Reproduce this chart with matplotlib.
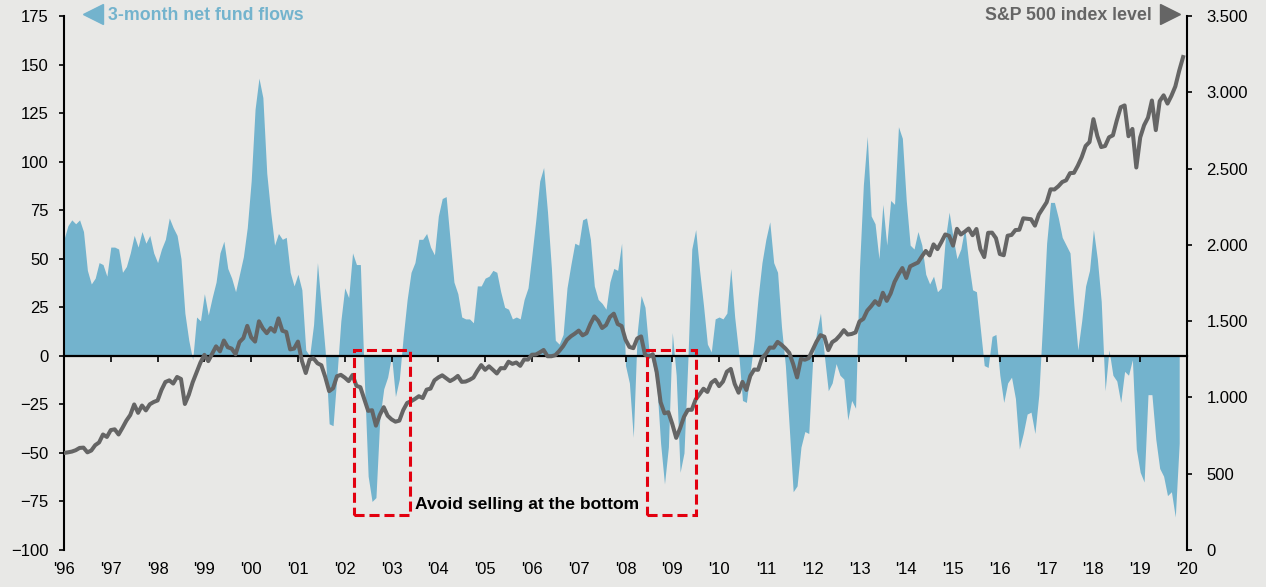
###############################################################################
### Fund flows vs S&P 500 index level
###############################################################################

#------------------------------------------------------------------------------
### Import packages
import matplotlib
matplotlib.use('Agg')
import matplotlib.pyplot as plt
from matplotlib.lines import Line2D
from matplotlib.patches import Rectangle
from matplotlib.ticker import FuncFormatter
import numpy as np


#------------------------------------------------------------------------------
### Data (monthly, starting Jan 1996)

# 3-month net fund flows (left axis), Jan 1996 - Nov 2019
flows_1996 = [60, 67, 70, 68, 70, 64, 44, 37, 40, 48, 47, 41]
flows_1997 = [56, 56, 55, 43, 46, 53, 62, 56, 64, 58, 62, 53]
flows_1998 = [48, 55, 60, 71, 66, 62, 50, 22, 8, -2, 20, 18]
flows_1999 = [32, 21, 30, 38, 53, 59, 45, 40, 33, 42, 51, 66]
flows_2000 = [90, 127, 143, 133, 94, 74, 57, 63, 60, 61, 43, 36]
flows_2001 = [42, 34, 3, 0, 16, 48, 25, 2, -35, -36, -10, 18]
flows_2002 = [35, 30, 53, 47, 47, -11, -62, -75, -73, -32, -17, -11]
flows_2003 = [0, -21, -12, 10, 29, 43, 48, 60, 60, 63, 56, 52]
flows_2004 = [72, 81, 82, 60, 38, 32, 20, 19, 19, 17, 36, 36]
flows_2005 = [40, 41, 44, 43, 33, 25, 24, 19, 20, 19, 29, 35]
flows_2006 = [52, 70, 90, 97, 74, 45, 8, 6, 11, 35, 47, 58]
flows_2007 = [57, 70, 71, 60, 36, 29, 27, 24, 38, 45, 44, 58]
flows_2008 = [-5, -14, -42, 12, 31, 25, 3, -4, -14, -45, -66, -47]
flows_2009 = [12, -10, -60, -50, -2, 55, 65, 44, 26, 6, 2, 19]
flows_2010 = [20, 19, 22, 45, 20, 2, -23, -24, -8, 8, 30, 48]
flows_2011 = [60, 69, 48, 43, 15, -5, -37, -70, -67, -47, -39, -40]
flows_2012 = [-2, 12, 22, 0, -18, -14, -4, -10, -12, -33, -23, -27]
flows_2013 = [45, 88, 113, 72, 68, 50, 78, 57, 80, 78, 118, 112]
flows_2014 = [80, 57, 55, 64, 57, 42, 37, 41, 33, 35, 60, 74]
flows_2015 = [61, 50, 55, 66, 48, 34, 33, 14, -5, -6, 10, 11]
flows_2016 = [-10, -24, -14, -11, -22, -48, -40, -30, -29, -40, -20, 18]
flows_2017 = [58, 79, 79, 71, 61, 57, 53, 26, 3, 18, 36, 44]
flows_2018 = [65, 50, 28, -18, 3, -10, -13, -24, -8, -10, -2, -48]
flows_2019 = [-60, -65, -20, -20, -43, -58, -62, -72, -70, -83, -45]

# S&P 500 index level (right axis), Jan 1996 - Dec 2019
spx_1996 = [636, 640, 645, 654, 669, 671, 640, 652, 687, 705, 757, 741]
spx_1997 = [786, 791, 757, 801, 848, 885, 954, 899, 947, 915, 955, 970]
spx_1998 = [980, 1049, 1101, 1112, 1091, 1134, 1121, 957, 1017, 1099, 1164, 1229]
spx_1999 = [1279, 1238, 1286, 1335, 1302, 1373, 1329, 1320, 1283, 1363, 1389, 1469]
spx_2000 = [1394, 1366, 1499, 1452, 1421, 1455, 1431, 1518, 1437, 1429, 1315, 1320]
spx_2001 = [1366, 1240, 1160, 1249, 1256, 1224, 1211, 1134, 1041, 1060, 1139, 1148]
spx_2002 = [1130, 1107, 1147, 1076, 1067, 990, 912, 916, 815, 886, 936, 880]
spx_2003 = [856, 841, 848, 917, 964, 975, 990, 1008, 996, 1051, 1058, 1112]
spx_2004 = [1131, 1145, 1126, 1107, 1121, 1141, 1102, 1104, 1115, 1130, 1174, 1212]
spx_2005 = [1181, 1204, 1181, 1157, 1192, 1191, 1234, 1220, 1229, 1207, 1249, 1248]
spx_2006 = [1280, 1281, 1295, 1311, 1270, 1270, 1277, 1304, 1336, 1378, 1401, 1418]
spx_2007 = [1438, 1407, 1421, 1482, 1531, 1503, 1455, 1474, 1527, 1549, 1481, 1468]
spx_2008 = [1379, 1331, 1323, 1386, 1400, 1280, 1267, 1283, 1166, 969, 896, 903]
spx_2009 = [826, 735, 798, 873, 919, 919, 987, 1021, 1057, 1036, 1096, 1115]
spx_2010 = [1074, 1104, 1169, 1187, 1089, 1031, 1102, 1049, 1141, 1183, 1181, 1258]
spx_2011 = [1286, 1327, 1326, 1364, 1345, 1321, 1292, 1219, 1131, 1253, 1247, 1258]
spx_2012 = [1312, 1366, 1408, 1398, 1310, 1362, 1379, 1407, 1441, 1412, 1416, 1426]
spx_2013 = [1498, 1515, 1569, 1598, 1631, 1606, 1686, 1633, 1682, 1757, 1806, 1848]
spx_2014 = [1783, 1859, 1872, 1884, 1924, 1960, 1931, 2003, 1972, 2018, 2068, 2059]
spx_2015 = [1995, 2105, 2068, 2086, 2107, 2063, 2104, 1972, 1920, 2079, 2080, 2044]
spx_2016 = [1940, 1932, 2060, 2065, 2097, 2099, 2174, 2171, 2168, 2126, 2199, 2239]
spx_2017 = [2279, 2364, 2363, 2384, 2412, 2423, 2470, 2472, 2519, 2575, 2648, 2674]
spx_2018 = [2824, 2714, 2641, 2648, 2705, 2718, 2816, 2902, 2914, 2712, 2760, 2507]
spx_2019 = [2704, 2784, 2834, 2946, 2752, 2942, 2980, 2926, 2977, 3038, 3141, 3231]

# Axis ticks
year_ticks = list(range(1996, 2021))
flow_ticks = list(range(-100, 176, 25))
spx_ticks = list(range(0, 3501, 500))

# Highlighted periods (start year, end year)
highlight_periods = [(2002.2, 2003.39), (2008.46, 2009.5)]


#------------------------------------------------------------------------------
### Constants

FIG_W, FIG_H, DPI = 12.66, 5.87, 100
BG_COLOR = '#e8e8e6'
FLOW_COLOR = '#73b3cd'
SPX_COLOR = '#656565'
BOX_COLOR = '#e3000f'
FONT_SIZE = 12
HEADER_SIZE = 12.8

plt.rcParams['font.family'] = ['Liberation Sans', 'DejaVu Sans']


#------------------------------------------------------------------------------
### Assemble series

flows = np.array(flows_1996 + flows_1997 + flows_1998 + flows_1999 + flows_2000
	+ flows_2001 + flows_2002 + flows_2003 + flows_2004 + flows_2005 + flows_2006
	+ flows_2007 + flows_2008 + flows_2009 + flows_2010 + flows_2011 + flows_2012
	+ flows_2013 + flows_2014 + flows_2015 + flows_2016 + flows_2017 + flows_2018
	+ flows_2019, dtype=float)
spx = np.array(spx_1996 + spx_1997 + spx_1998 + spx_1999 + spx_2000 + spx_2001
	+ spx_2002 + spx_2003 + spx_2004 + spx_2005 + spx_2006 + spx_2007 + spx_2008
	+ spx_2009 + spx_2010 + spx_2011 + spx_2012 + spx_2013 + spx_2014 + spx_2015
	+ spx_2016 + spx_2017 + spx_2018 + spx_2019, dtype=float)

t_flows = 1996 + np.arange(len(flows)) / 12.0
t_spx = 1996 + np.arange(len(spx)) / 12.0


#------------------------------------------------------------------------------
### Plot

fig = plt.figure(figsize=(FIG_W, FIG_H), dpi=DPI, facecolor=BG_COLOR)
ax = fig.add_axes([64/1266, 37/587, 1123/1266, 534/587])
ax.set_facecolor(BG_COLOR)
ax2 = ax.twinx()

# Fund flows area
ax.fill_between(t_flows, flows, 0, color=FLOW_COLOR, linewidth=0, zorder=1)
ax.set_xlim(1996, 2020)
ax.set_ylim(-100, 175)

# S&P line
ax2.plot(t_spx, spx, color=SPX_COLOR, linewidth=2.9, solid_joinstyle='round',
	zorder=3)
ax2.set_ylim(0, 3500)

# Spines
for side in ['top', 'right']:
	ax.spines[side].set_visible(False)
for side in ['top', 'left', 'bottom']:
	ax2.spines[side].set_visible(False)
ax.spines['left'].set_linewidth(1.5)
ax2.spines['right'].set_linewidth(1.5)
ax.spines['bottom'].set_position(('data', 0))
ax.spines['bottom'].set_linewidth(1.6)
ax.spines['bottom'].set_zorder(2)

# Ticks
ax.set_xticks(year_ticks)
ax.tick_params(axis='x', direction='out', length=4, width=1.2,
	labelbottom=False)
ax.set_yticks(flow_ticks)
ax.tick_params(axis='y', direction='out', length=3.6, width=1.2, pad=7.5,
	labelsize=FONT_SIZE)
ax2.set_yticks(spx_ticks)
ax2.yaxis.set_major_formatter(FuncFormatter(
	lambda v, pos: '{:,}'.format(int(v)).replace(',', '.')))
ax2.tick_params(axis='y', direction='out', length=3.6, width=1.2, pad=10.5,
	labelsize=FONT_SIZE)

# Year labels below the plot area
for yr in year_ticks:
	ax.text(yr, -106.2, "'" + str(yr)[2:], ha='center', va='top',
		fontsize=FONT_SIZE)

# Highlight boxes
for start, end in highlight_periods:
	box = Rectangle((start, -82), end - start, 85, fill=False,
		edgecolor=BOX_COLOR, linewidth=2.2, linestyle=(0, (3.3, 1.6)),
		transform=ax.transData, zorder=4)
	ax2.add_patch(box)
ax2.text(2003.5, -76.7, 'Avoid selling at the bottom', transform=ax.transData,
	ha='left', va='center', fontsize=12.6, fontweight='bold', zorder=5)

# Series headers with arrows
fig.add_artist(Line2D([93/1266], [1 - 14/587], marker='<', markersize=14,
	color=FLOW_COLOR, linestyle='none', transform=fig.transFigure))
fig.text(108/1266, 1 - 15/587, '3-month net fund flows', color=FLOW_COLOR,
	fontsize=HEADER_SIZE, fontweight='bold', ha='left', va='center')
fig.add_artist(Line2D([1170/1266], [1 - 14/587], marker='>', markersize=14,
	color=SPX_COLOR, linestyle='none', transform=fig.transFigure))
fig.text(1152/1266, 1 - 15/587, 'S&P 500 index level', color=SPX_COLOR,
	fontsize=HEADER_SIZE, fontweight='bold', ha='right', va='center')

plt.savefig('out.png', dpi=DPI, facecolor=BG_COLOR)
plt.close()
